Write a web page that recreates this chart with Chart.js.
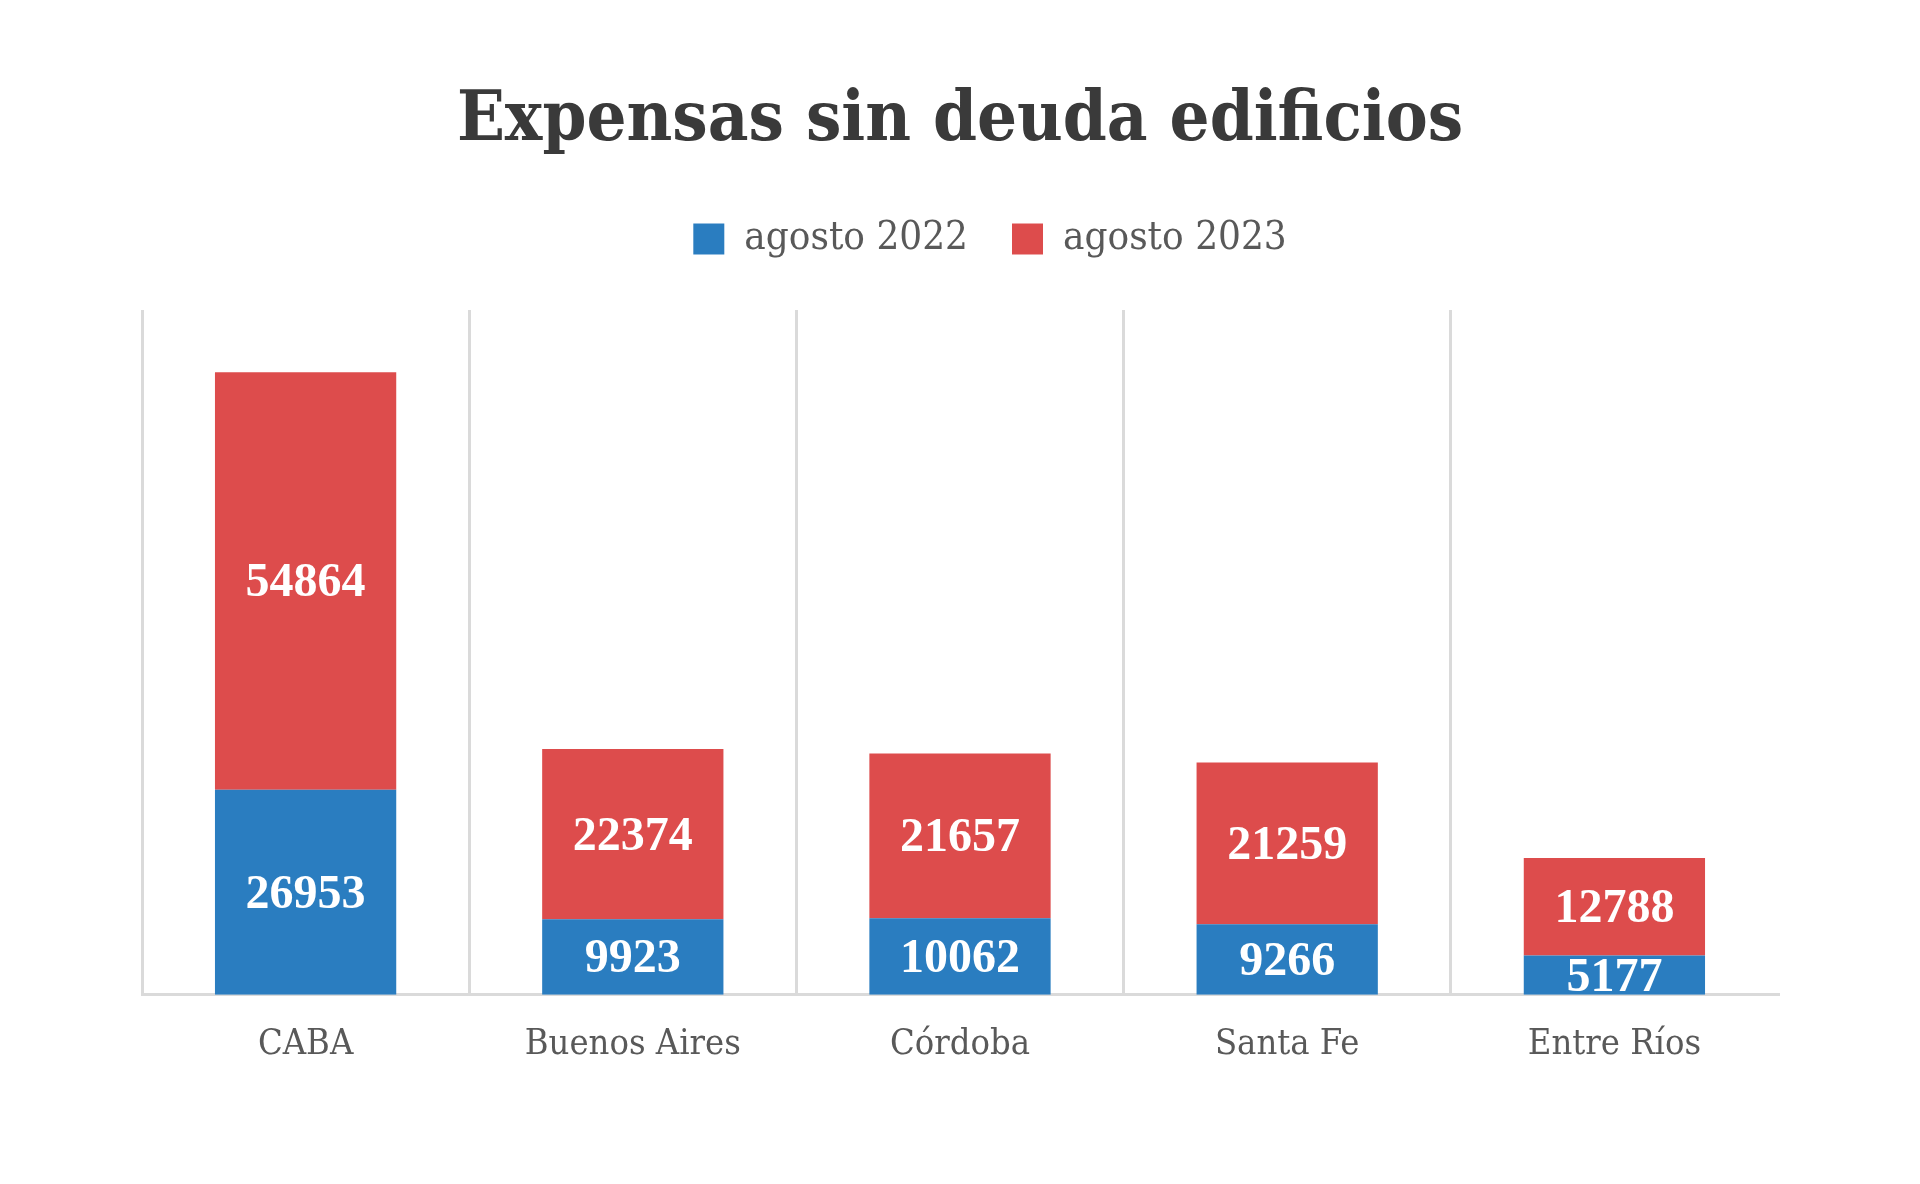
<!DOCTYPE html>
<html>
<head>
<meta charset="utf-8">
<script src="https://cdn.jsdelivr.net/npm/chart.js@4.4.1/dist/chart.umd.min.js"></script>
<style>
  html, body { margin: 0; padding: 0; background: #ffffff; }
  #wrap { width: 1920px; height: 1184px; position: relative; }
</style>
</head>
<body>
<div id="wrap"><canvas id="c" width="1920" height="1184"></canvas></div>
<script>
const titleText = 'Expensas sin deuda edificios';
const categories = ['CABA', 'Buenos Aires', 'Córdoba', 'Santa Fe', 'Entre Ríos'];
const seriesNames = ['agosto 2022', 'agosto 2023'];
const values2022 = [26953, 9923, 10062, 9266, 5177];
const values2023 = [54864, 22374, 21657, 21259, 12788];
const yMax = 90000;

const BLUE = '#2a7dc0';
const RED = '#dd4c4c';
const TEXT_GRAY = '#595959';
const GRID_GRAY = '#dadada';
const AXIS_FONT = '"DejaVu Serif Condensed", "DejaVu Serif", serif';

const valueLabels = {
  id: 'valueLabels',
  afterDatasetsDraw(chart) {
    const ctx = chart.ctx;
    const a = chart.chartArea;
    ctx.save();
    ctx.beginPath();
    ctx.rect(a.left, a.top, a.right - a.left, a.bottom - a.top - 1);
    ctx.clip();
    ctx.font = 'bold 48px "Liberation Serif", serif';
    ctx.fillStyle = '#ffffff';
    ctx.textAlign = 'center';
    ctx.textBaseline = 'middle';
    chart.data.datasets.forEach((ds, i) => {
      const meta = chart.getDatasetMeta(i);
      meta.data.forEach((el, j) => {
        const y = (el.y + el.base) / 2 + 3;
        ctx.fillText(String(ds.data[j]), el.x, y);
      });
    });
    ctx.restore();
  }
};

const legendTweak = {
  id: 'legendTweak',
  beforeLayout(chart) {
    const lg = chart.legend;
    if (lg && !lg._patched) {
      const origFit = lg.fit.bind(lg);
      lg.fit = function () { origFit(); this.height += 41; };
      lg._patched = true;
    }
  },
  afterLayout(chart) {
    const lg = chart.legend;
    if (lg) { lg.left += 30; lg.right += 30; }
  }
};

new Chart(document.getElementById('c'), {
  type: 'bar',
  data: {
    labels: categories,
    datasets: [
      { label: seriesNames[0], data: values2022, backgroundColor: BLUE, borderWidth: 0 },
      { label: seriesNames[1], data: values2023, backgroundColor: RED, borderWidth: 0 }
    ]
  },
  options: {
    responsive: false,
    animation: false,
    devicePixelRatio: 1,
    layout: { padding: { left: 142, right: 142, top: 0, bottom: 90 } },
    datasets: { bar: { categoryPercentage: 1.0, barPercentage: 0.554 } },
    plugins: {
      title: {
        display: true,
        text: titleText,
        color: '#3a3a3a',
        font: { family: AXIS_FONT, size: 70, weight: 'bold', lineHeight: 1.2 },
        padding: { top: 80, bottom: 11 }
      },
      legend: {
        display: true,
        position: 'top',
        labels: {
          color: TEXT_GRAY,
          font: { family: AXIS_FONT, size: 40 },
          boxWidth: 31,
          boxHeight: 31,
          padding: 44
        }
      },
      tooltip: { enabled: false }
    },
    scales: {
      x: {
        stacked: true,
        grid: {
          offset: true,
          drawTicks: false,
          lineWidth: 3,
          color: (ctx) => (ctx.tick === undefined || ctx.index === undefined ? 'rgba(0,0,0,0)' : GRID_GRAY)
        },
        border: { display: true, color: GRID_GRAY, width: 3 },
        ticks: {
          color: TEXT_GRAY,
          font: { family: AXIS_FONT, size: 36 },
          padding: 28
        }
      },
      y: {
        stacked: true,
        display: false,
        min: 0,
        max: yMax
      }
    }
  },
  plugins: [valueLabels, legendTweak]
});
</script>
</body>
</html>
